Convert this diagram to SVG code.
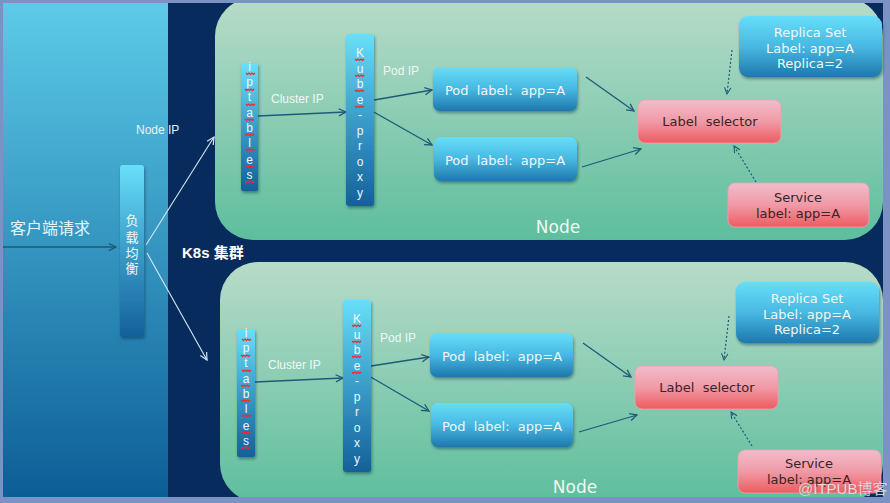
<svg xmlns="http://www.w3.org/2000/svg" width="890" height="503" viewBox="0 0 890 503">
<defs>
  <linearGradient id="gLeft" x1="0" y1="0" x2="0" y2="1">
    <stop offset="0" stop-color="#5ccbe8"/>
    <stop offset="1" stop-color="#0c5e96"/>
  </linearGradient>
  <linearGradient id="gNode" x1="0" y1="0" x2="0" y2="1">
    <stop offset="0" stop-color="#b8dbc9"/>
    <stop offset="1" stop-color="#5dbe9d"/>
  </linearGradient>
  <linearGradient id="gBlue" x1="0" y1="0" x2="0" y2="1">
    <stop offset="0" stop-color="#66def9"/>
    <stop offset="0.5" stop-color="#48b8e2"/>
    <stop offset="1" stop-color="#1e78ac"/>
  </linearGradient>
  <linearGradient id="gBar" x1="0" y1="0" x2="0" y2="1">
    <stop offset="0" stop-color="#68dffa"/>
    <stop offset="0.5" stop-color="#3a9cc8"/>
    <stop offset="1" stop-color="#15609a"/>
  </linearGradient>
  <linearGradient id="gPink" x1="0" y1="0" x2="0" y2="1">
    <stop offset="0" stop-color="#f2bccb"/>
    <stop offset="0.5" stop-color="#f09aa6"/>
    <stop offset="1" stop-color="#ee5b5f"/>
  </linearGradient>
  <filter id="sh" x="-20%" y="-20%" width="140%" height="150%">
    <feDropShadow dx="1" dy="2" stdDeviation="1.5" flood-color="#0a2a40" flood-opacity="0.45"/>
  </filter>
  <clipPath id="frame"><rect x="3" y="3" width="880" height="494"/></clipPath>
  <marker id="arr" viewBox="0 0 10 10" refX="9" refY="5" markerWidth="9" markerHeight="9" markerUnits="userSpaceOnUse" orient="auto">
    <path d="M1,1 L9,5 L1,9" fill="none" stroke="#1d5a7a" stroke-width="1.4"/>
  </marker>
  <marker id="arrW" viewBox="0 0 10 10" refX="9" refY="5" markerWidth="9" markerHeight="9" markerUnits="userSpaceOnUse" orient="auto">
    <path d="M1,1 L9,5 L1,9" fill="none" stroke="#d8e8f2" stroke-width="1.3"/>
  </marker>
  <marker id="arrD" viewBox="0 0 10 10" refX="9" refY="5" markerWidth="8" markerHeight="8" markerUnits="userSpaceOnUse" orient="auto">
    <path d="M1,1 L9,5 L1,9" fill="none" stroke="#1d5a7a" stroke-width="1.3"/>
  </marker>
  <path id="wav" d="M0,0 l1.5,1.5 l1.5,-1.5 l1.5,1.5 l1.5,-1.5 l1.5,1.5 l1.5,-1.5" fill="none" stroke="#ff2424" stroke-width="1.2"/>
</defs>
<style>
  .t { font-family: "Liberation Sans", "Noto Sans CJK SC", sans-serif; white-space: pre; }
  .b { font-family: "DejaVu Sans", "Liberation Sans", sans-serif; white-space: pre; }
  .wt { fill: #eef8f6; }
  .dk { fill: #3a2428; }
  .conn { fill: none; stroke: #1d5a7a; stroke-width: 1.3; }
  .dash { fill: none; stroke: #1d5a7a; stroke-width: 1.2; stroke-dasharray: 2 2; }
  .wl { fill: none; stroke: #d8e8f2; stroke-width: 1.1; }
  .bar-t { font-size: 12px; text-anchor: middle; }
  .box-t { font-size: 13px; text-anchor: middle; }
</style>

<!-- background frame -->
<rect x="0" y="0" width="890" height="503" fill="#7b93c4"/>
<g clip-path="url(#frame)">
  <rect x="3" y="3" width="165" height="494" fill="url(#gLeft)"/>
  <rect x="168" y="3" width="715" height="494" fill="#062b5c"/>
  <g id="node1"><rect x="215" y="-2" width="668" height="242" rx="38" fill="url(#gNode)"/></g>
  <g id="node2"><rect x="220" y="262" width="663" height="240" rx="38" fill="url(#gNode)"/></g>
</g>

<text class="t" x="10" y="234" font-size="16" fill="#e2f5fb">客户端请求</text>
<text class="t" x="182" y="258" font-size="15" font-weight="bold" fill="#ffffff">K8s 集群</text>
<text class="t" x="136" y="134" font-size="12" fill="#e6f2f8">Node IP</text>
<text class="b" x="558" y="233" font-size="17" fill="#eef8f4" text-anchor="middle">Node</text>
<text class="b" x="575" y="493" font-size="17" fill="#eef8f4" text-anchor="middle">Node</text>
<text class="t wt" x="271" y="103" font-size="12">Cluster IP</text>
<text class="t wt" x="383" y="75" font-size="12">Pod IP</text>
<text class="t wt" x="268" y="369" font-size="12">Cluster IP</text>
<text class="t wt" x="380" y="342" font-size="12">Pod IP</text>

<!-- connectors -->
<g id="connectors">
  <line class="conn" x1="3" y1="247" x2="116" y2="247" marker-end="url(#arr)"/>
  <line class="wl" x1="146" y1="245" x2="214" y2="137" marker-end="url(#arrW)"/>
  <line class="wl" x1="147" y1="253" x2="207" y2="360" marker-end="url(#arrW)"/>
  <line class="conn" x1="258" y1="116" x2="346" y2="112" marker-end="url(#arr)"/>
  <line class="conn" x1="374" y1="100" x2="432" y2="90" marker-end="url(#arr)"/>
  <line class="conn" x1="372" y1="111" x2="432" y2="145" marker-end="url(#arr)"/>
  <line class="conn" x1="586" y1="77" x2="634" y2="111" marker-end="url(#arr)"/>
  <line class="conn" x1="582" y1="167" x2="641" y2="149" marker-end="url(#arr)"/>
  <line class="dash" x1="732" y1="50" x2="727" y2="94" marker-end="url(#arrD)"/>
  <line class="dash" x1="756" y1="182" x2="734" y2="146" marker-end="url(#arrD)"/>
  <line class="conn" x1="255" y1="382" x2="343" y2="378" marker-end="url(#arr)"/>
  <line class="conn" x1="371" y1="366" x2="429" y2="357" marker-end="url(#arr)"/>
  <line class="conn" x1="369" y1="376" x2="429" y2="411" marker-end="url(#arr)"/>
  <line class="conn" x1="583" y1="343" x2="631" y2="377" marker-end="url(#arr)"/>
  <line class="conn" x1="579" y1="432" x2="637" y2="415" marker-end="url(#arr)"/>
  <line class="dash" x1="729" y1="316" x2="724" y2="360" marker-end="url(#arrD)"/>
  <line class="dash" x1="752" y1="446" x2="731" y2="412" marker-end="url(#arrD)"/>
</g>

<!-- load balancer -->
<g id="lb">
  <rect x="120" y="165" width="24" height="172" rx="3" fill="url(#gBar)" filter="url(#sh)"/>
  <g class="t wt" font-size="13" text-anchor="middle">
    <text x="132" y="225">负</text><text x="132" y="242">载</text><text x="132" y="258">均</text><text x="132" y="273">衡</text>
  </g>
</g>

<!-- top cluster -->
<g id="iptables1">
  <rect x="241" y="63" width="17" height="128" rx="2" fill="url(#gBar)" filter="url(#sh)"/>
  <g class="t wt bar-t">
    <text x="249.5" y="71">i</text><text x="249.5" y="86">p</text><text x="249.5" y="101">t</text><text x="249.5" y="117">a</text><text x="249.5" y="132">b</text><text x="249.5" y="147">l</text><text x="249.5" y="164">e</text><text x="249.5" y="179">s</text>
  </g>
  <g>
    <use href="#wav" x="246" y="73"/><use href="#wav" x="245" y="89"/><use href="#wav" x="246" y="104"/><use href="#wav" x="245" y="119"/><use href="#wav" x="245" y="134"/><use href="#wav" x="246" y="149"/><use href="#wav" x="245" y="166"/><use href="#wav" x="245" y="181"/>
  </g>
</g>
<g id="kubeproxy1">
  <rect x="346" y="34" width="28" height="172" rx="3" fill="url(#gBar)" filter="url(#sh)"/>
  <g class="t wt bar-t">
    <text x="360" y="57">K</text><text x="360" y="72.5">u</text><text x="360" y="88">b</text><text x="360" y="103.5">e</text><text x="360" y="119">-</text><text x="360" y="134.5">p</text><text x="360" y="150">r</text><text x="360" y="165.5">o</text><text x="360" y="181">x</text><text x="360" y="196.5">y</text>
  </g>
  <g>
    <use href="#wav" x="355" y="59"/><use href="#wav" x="355" y="75"/><use href="#wav" x="355" y="90"/><use href="#wav" x="355" y="106"/>
  </g>
</g>
<g id="pod1a">
  <rect x="433" y="67" width="144" height="44" rx="7" fill="url(#gBlue)" filter="url(#sh)"/>
  <text class="b wt box-t" x="505" y="95">Pod  label:  app=A</text>
</g>
<g id="pod1b">
  <rect x="434" y="137" width="143" height="44" rx="7" fill="url(#gBlue)" filter="url(#sh)"/>
  <text class="b wt box-t" x="505" y="165">Pod  label:  app=A</text>
</g>
<g id="selector1">
  <rect x="638" y="100" width="143" height="43" rx="7" fill="url(#gPink)" stroke="#f0a0b0" stroke-width="0.8"/>
  <text class="b dk box-t" x="710" y="126">Label  selector</text>
</g>
<g id="replica1">
  <rect x="739" y="16" width="143" height="61" rx="9" fill="url(#gBlue)" filter="url(#sh)"/>
  <g class="b wt box-t" font-size="12.5">
    <text x="810" y="37">Replica Set</text><text x="810" y="53">Label: app=A</text><text x="810" y="68">Replica=2</text>
  </g>
</g>
<g id="service1">
  <rect x="728" y="183" width="141" height="44" rx="7" fill="url(#gPink)" stroke="#f0a0b0" stroke-width="0.8"/>
  <g class="b dk box-t"><text x="798" y="202">Service</text><text x="798" y="218">label:  app=A</text></g>
</g>

<!-- bottom cluster -->
<g id="iptables2">
  <rect x="237" y="329" width="18" height="128" rx="2" fill="url(#gBar)" filter="url(#sh)"/>
  <g class="t wt bar-t">
    <text x="246" y="337">i</text><text x="246" y="352">p</text><text x="246" y="367">t</text><text x="246" y="383">a</text><text x="246" y="398">b</text><text x="246" y="413">l</text><text x="246" y="430">e</text><text x="246" y="445">s</text>
  </g>
  <g>
    <use href="#wav" x="242" y="339"/><use href="#wav" x="241" y="355"/><use href="#wav" x="242" y="370"/><use href="#wav" x="241" y="385"/><use href="#wav" x="241" y="400"/><use href="#wav" x="242" y="415"/><use href="#wav" x="241" y="432"/><use href="#wav" x="241" y="447"/>
  </g>
</g>
<g id="kubeproxy2">
  <rect x="343" y="300" width="28" height="172" rx="3" fill="url(#gBar)" filter="url(#sh)"/>
  <g class="t wt bar-t">
    <text x="357" y="323">K</text><text x="357" y="338.5">u</text><text x="357" y="354">b</text><text x="357" y="369.5">e</text><text x="357" y="385">-</text><text x="357" y="400.5">p</text><text x="357" y="416">r</text><text x="357" y="431.5">o</text><text x="357" y="447">x</text><text x="357" y="462.5">y</text>
  </g>
  <g>
    <use href="#wav" x="352" y="325"/><use href="#wav" x="352" y="341"/><use href="#wav" x="352" y="356"/><use href="#wav" x="352" y="372"/>
  </g>
</g>
<g id="pod2a">
  <rect x="430" y="333" width="143" height="44" rx="7" fill="url(#gBlue)" filter="url(#sh)"/>
  <text class="b wt box-t" x="502" y="361">Pod  label:  app=A</text>
</g>
<g id="pod2b">
  <rect x="431" y="403" width="142" height="44" rx="7" fill="url(#gBlue)" filter="url(#sh)"/>
  <text class="b wt box-t" x="502" y="431">Pod  label:  app=A</text>
</g>
<g id="selector2">
  <rect x="635" y="366" width="143" height="43" rx="7" fill="url(#gPink)" stroke="#f0a0b0" stroke-width="0.8"/>
  <text class="b dk box-t" x="707" y="392">Label  selector</text>
</g>
<g id="replica2">
  <rect x="736" y="282" width="143" height="61" rx="9" fill="url(#gBlue)" filter="url(#sh)"/>
  <g class="b wt box-t" font-size="12.5">
    <text x="807" y="303">Replica Set</text><text x="807" y="319">Label: app=A</text><text x="807" y="334">Replica=2</text>
  </g>
</g>
<g id="service2">
  <rect x="738" y="450" width="143" height="43" rx="7" fill="url(#gPink)" stroke="#f0a0b0" stroke-width="0.8"/>
  <g class="b dk box-t"><text x="809" y="468">Service</text><text x="809" y="484">label:  app=A</text></g>
</g>

<text class="t" x="798" y="494" font-size="15" fill="#ffffff" fill-opacity="0.85" stroke="#808080" stroke-opacity="0.4" stroke-width="0.5">@ITPUB博客</text>
</svg>
